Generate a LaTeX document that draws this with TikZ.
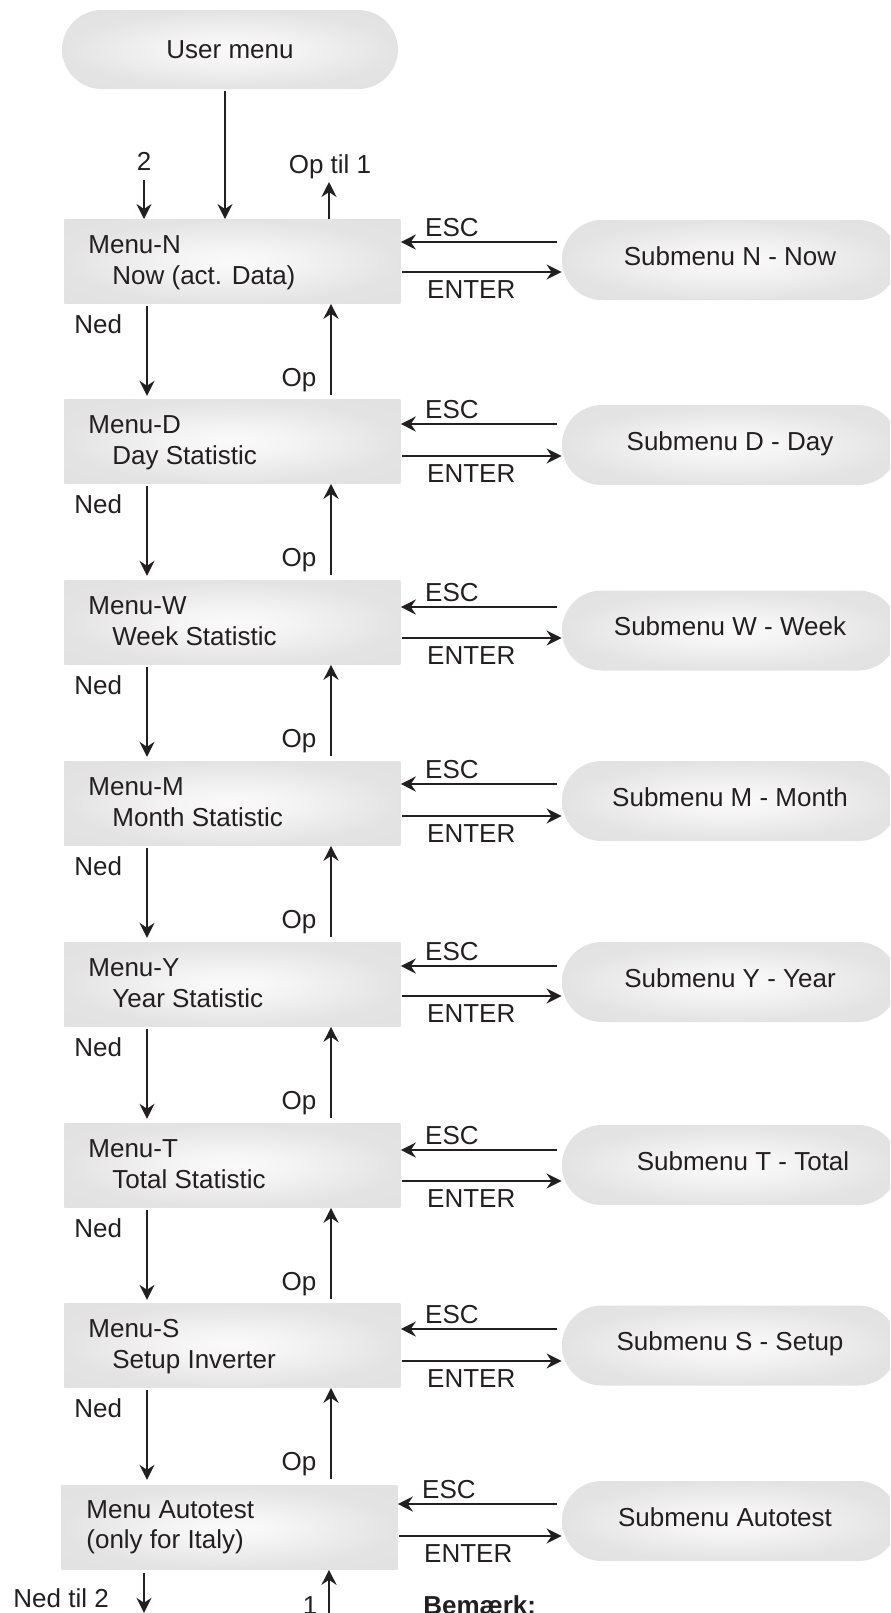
\documentclass[tikz,border=0pt]{standalone}
\usepackage{fontspec}
\setmainfont{Liberation Sans}
\usetikzlibrary{arrows.meta,calc}
\definecolor{ink}{HTML}{231F20}
\pgfdeclareradialshading{boxshade}{\pgfpoint{0bp}{0bp}}{color(0bp)=(white!98!black); color(8bp)=(white!96!black); color(25bp)=(white!89!black); color(50bp)=(white!88!black)}
\newcommand\escenter[3]{%
  \draw[arr] ($(s#1.west |- 0,#2)+(-5,0)$) -- (m#1.east |- 0,#2);
  \draw[arr] ($(m#1.east |- 0,#3)+(1,0)$) -- (s#1.west |- 0,#3);
  \node[txt, anchor=base west] (esc#1) at ($(m#1.east |- 0,#2)+(24,-6)$) {ESC};
  \node[txt, anchor=base west] (ent#1) at ($(m#1.east |- 0,#3)+(26,26)$) {ENTER};}
\newcommand\updown[1]{%
  \draw[arr] ($(m#1.south west)+(83,2)$) -- ($(m#1.south west)+(83,92)$);
  \draw[arr] ($(m#1.south west)+(267,91)$) -- ($(m#1.south west)+(267,0)$);
  \node[txt, anchor=base west] (ned#1) at ($(m#1.south west)+(10,30)$) {Ned};
  \node[txt, anchor=base] (op#1) at ($(m#1.south west)+(235,83)$) {Op};}
\newcommand\menutext[3]{%
  \node[txt, anchor=base west] (t#1a) at ($(m#1.north west)+(24,34)$) {#2};
  \node[txt, anchor=base west] (t#1b) at ($(m#1.north west)+(48,65)$) {#3};}
\begin{document}
\begin{tikzpicture}[x=0.5pt,y=-0.5pt,
  txt/.style={font=\fontsize{13}{15.6}\selectfont, text=ink, inner sep=0pt},
  menubox/.style={rectangle, anchor=north west, minimum width=168pt, minimum height=42pt, inner sep=0pt, shade, shading=boxshade},
  subbox/.style={txt, rectangle, rounded corners=19.9pt, minimum width=168pt, minimum height=40pt, text height=9.5pt, text depth=4.5pt, shade, shading=boxshade},
  arr/.style={draw=ink, line width=1pt, -{Stealth[length=7.5pt,width=7.5pt,inset=2.5pt]}},
]
\useasboundingbox (0,0) rectangle (890,1613);
\clip (0,0) rectangle (890,1613);

% user menu
\node[subbox, text depth=1pt, minimum height=39.5pt] (user) at (230,49.5) {User menu};

% menu boxes
\node[menubox] (mN) at (64,219) {};
\node[menubox] (mD) at (64,399) {};
\node[menubox] (mW) at (64,580) {};
\node[menubox] (mM) at (64,761) {};
\node[menubox] (mY) at (64,942) {};
\node[menubox] (mT) at (64,1123) {};
\node[menubox] (mS) at (64,1303) {};
\node[menubox] (mA) at (61,1485) {};

\menutext{N}{Menu-N}{Now (act. Data)}
\menutext{D}{Menu-D}{Day Statistic}
\menutext{W}{Menu-W}{Week Statistic}
\menutext{M}{Menu-M}{Month Statistic}
\menutext{Y}{Menu-Y}{Year Statistic}
\menutext{T}{Menu-T}{Total Statistic}
\menutext{S}{Menu-S}{Setup Inverter}
\node[txt, anchor=base west] (tAa) at ($(mA.north west)+(25,33)$) {Menu Autotest};
\node[txt, anchor=base west] (tAb) at ($(mA.north west)+(25,63)$) {(only for Italy)};

% submenus
\node[subbox] (sN) at (730,260) {Submenu N - Now};
\node[subbox] (sD) at (730,445) {Submenu D - Day};
\node[subbox] (sW) at (730,630.5) {Submenu W - Week};
\node[subbox] (sM) at (730,801) {Submenu M - Month};
\node[subbox] (sY) at (730,982) {Submenu Y - Year};
\node[subbox] (sT) at (730,1165) {\hspace*{13pt}Submenu T - Total};
\node[subbox] (sS) at (730,1345.5) {Submenu S - Setup};
\node[subbox] (sA) at (730,1521) {Submenu Autotest\hspace*{5pt}};

% ESC / ENTER
\escenter{N}{242}{272}
\escenter{D}{424}{456}
\escenter{W}{607}{638}
\escenter{M}{784}{816}
\escenter{Y}{966}{996}
\escenter{T}{1150}{1181}
\escenter{S}{1329}{1361}
\escenter{A}{1504}{1536}

% Ned / Op
\updown{N}
\updown{D}
\updown{W}
\updown{M}
\updown{Y}
\updown{T}
\updown{S}

% top
\draw[arr] ($(user.south)+(-5,2)$) -- ($(mN.north west)+(161,0)$);
\coordinate (two) at ($(mN.north west)+(80,-39)$);
\draw[arr] (two) -- ($(mN.north west)+(80,0)$);
\node[txt, anchor=base] (lbltwo) at ($(mN.north west)+(80,-49)$) {2};
\coordinate (optil) at ($(mN.north west)+(265,-37)$);
\draw[arr] ($(mN.north west)+(265,0)$) -- (optil);
\node[txt, anchor=base] (lbloptil) at ($(mN.north west)+(266,-46)$) {Op til 1};

% bottom
\coordinate (nedtwo) at ($(mA.south west)+(83,43)$);
\draw[arr] ($(mA.south west)+(83,3)$) -- (nedtwo);
\node[txt, anchor=base west] (lblnedtwo) at ($(mA.south west)+(-48,38)$) {Ned til 2};
\coordinate (one) at ($(mA.south west)+(268,50)$);
\draw[arr] (one) -- ($(mA.south west)+(268,0)$);
\node[txt, anchor=base] (lblone) at ($(mA.south west)+(249,45)$) {1};
\node[txt, font=\fontsize{13}{15.6}\selectfont\bfseries, anchor=base west] (note) at (423,1614) {Bemærk:};
\end{tikzpicture}
\end{document}
